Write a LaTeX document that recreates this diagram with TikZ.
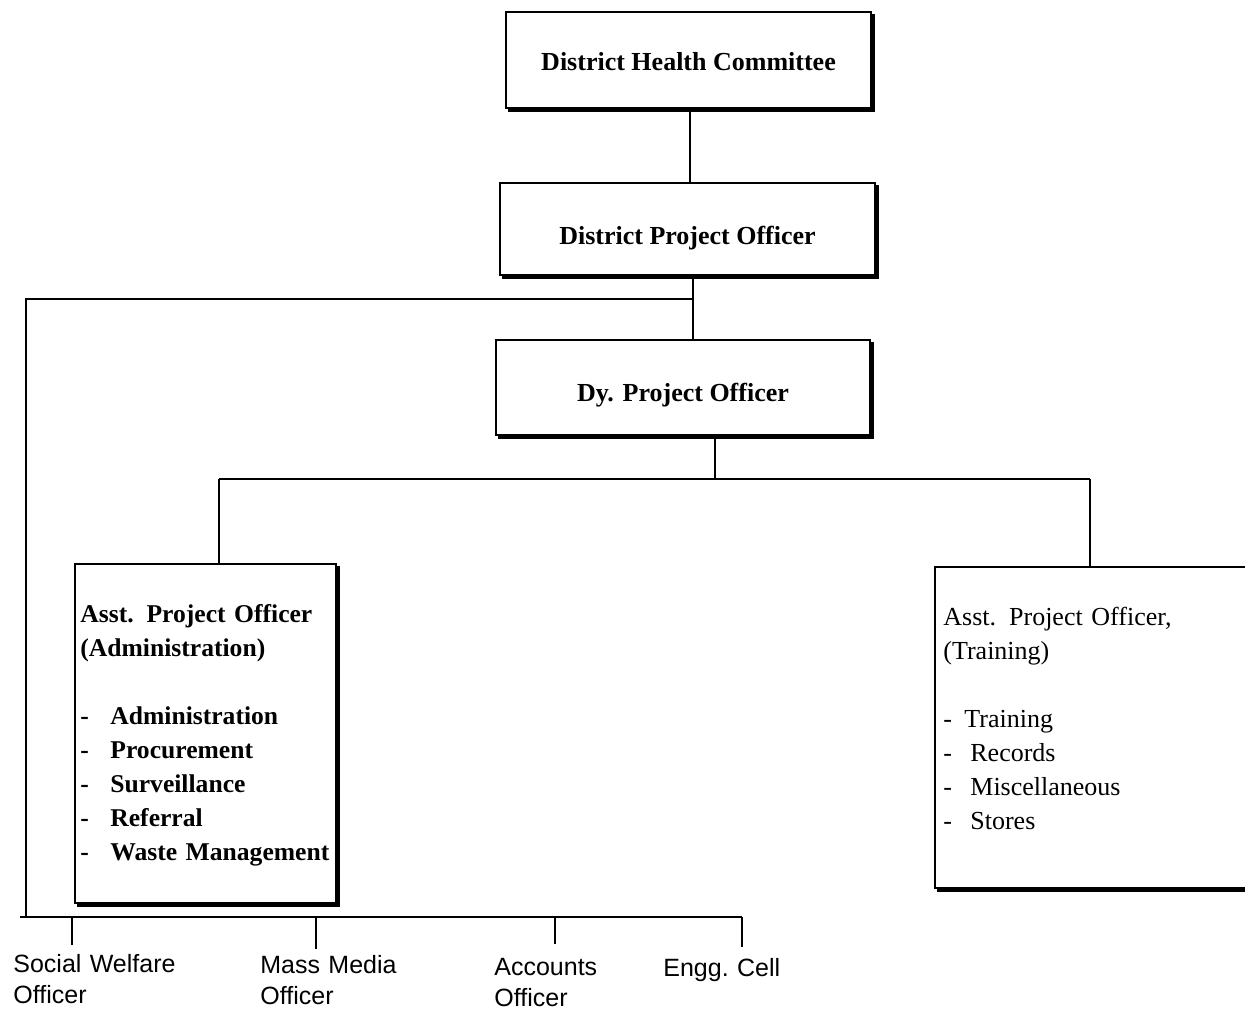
\documentclass[tikz,border=0pt]{standalone}
\usepackage{fontspec}
\setmainfont{Liberation Serif}
\newfontfamily\labelsans{Liberation Sans}
% a dash followed by an item, the item starting at a fixed indent
\newcommand\dashitem[2]{\makebox[#1][l]{-}#2}
% heavy lower and right edge that gives each post box its raised look
\newcommand\dropedge[1]{%
  \draw[edgeshadow] ([xshift=1.5pt,yshift=-0.6pt]#1.south west)
    -- ([xshift=0.6pt,yshift=-0.6pt]#1.south east)
    -- ([xshift=0.6pt,yshift=-1.5pt]#1.north east);}
\begin{document}
\begin{tikzpicture}[x=0.5pt,y=-0.5pt,
  link/.style={line width=0.8pt},
  post/.style={draw, line width=0.8pt, inner sep=0pt, text depth=0pt,
    font=\fontsize{13}{17}\selectfont\bfseries},
  edgeshadow/.style={line width=2pt},
  duties/.style={anchor=base west, inner sep=0pt, text width=150pt, align=left,
    font=\fontsize{13}{17}\selectfont},
  unit/.style={anchor=base west, inner sep=0pt, text width=100pt, align=left,
    font=\labelsans\fontsize{12.5}{15.5}\selectfont}
]
\useasboundingbox (0,0) rectangle (1245,1011);
\clip (0,0) rectangle (1245,1011);
\fill[white] (0,0) rectangle (1245,1011);

% posts
\node[post, minimum width=182.5pt, minimum height=48pt, text height=11pt]
  (dhc) at (688.5,60) {District Health Committee};
\node[post, minimum width=187.5pt, minimum height=46pt, text height=15pt]
  (dpo) at (687.5,229) {District Project Officer};
\node[post, minimum width=187pt, minimum height=47.5pt, text height=13.5pt]
  (dypo) at (683,387.5) {Dy. Project Officer};
\node[post, minimum width=130.5pt, minimum height=169.5pt]
  (apoa) at (205.5,733.5) {};
\node[post, minimum width=165pt, minimum height=160.5pt]
  (apot) at (1100,727.5) {};
\foreach \b in {dhc,dpo,dypo,apoa,apot} {\dropedge{\b}}

% duties of the two assistant officers
\node[duties, font=\fontsize{12.8}{17}\selectfont\bfseries] (apoa-t) at (80,622)
  {Asst. Project Officer\\(Administration)\\[17pt]
   \dashitem{15pt}{Administration}\\
   \dashitem{15pt}{Procurement}\\
   \dashitem{15pt}{Surveillance}\\
   \dashitem{15pt}{Referral}\\
   \dashitem{15pt}{Waste Management}};
\node[duties] (apot-t) at (943,625)
  {Asst. Project Officer,\\(Training)\\[17pt]
   \dashitem{10.5pt}{Training}\\
   \dashitem{13.5pt}{Records}\\
   \dashitem{13.5pt}{Miscellaneous}\\
   \dashitem{13.5pt}{Stores}};

% junction points of the lines
\coordinate (hub) at (693,299);
\coordinate (corner) at (26,299);
\coordinate (busL) at (20,917);
\coordinate (busR) at (742,917);
\coordinate (split) at (715,479);
\coordinate (splitL) at (219,479);
\coordinate (splitR) at (1090,479);

% reporting lines
\draw[link] (dhc.south -| 690,0) -- (690,0 |- dpo.north);
\draw[link] (dpo.south -| hub) -- (hub |- dypo.north);
\draw[link] (hub) -- (corner) -- (corner |- busL);
\draw[link] (busL) -- (busR);
\draw[link] (dypo.south -| split) -- (split);
\draw[link] (splitL) -- (splitR);
\draw[link] (splitL) -- (splitL |- apoa.north);
\draw[link] (splitR) -- (splitR |- apot.north);

% units hanging from the lower line
\foreach \n/\x/\e in {1/72/945, 2/316/949, 3/555/944, 4/742/947} {
  \coordinate (k\n) at (\x,917);
  \coordinate (e\n) at (\x,\e);
  \draw[link] (k\n) -- (e\n);
}
\node[unit] (swo) at (13,972) {Social Welfare\\Officer};
\node[unit] (mmo) at (260,973) {Mass Media\\Officer};
\node[unit] (aco) at (494,975) {Accounts\\Officer};
\node[unit] (eng) at (663,976) {Engg.\ Cell};
\end{tikzpicture}
\end{document}
